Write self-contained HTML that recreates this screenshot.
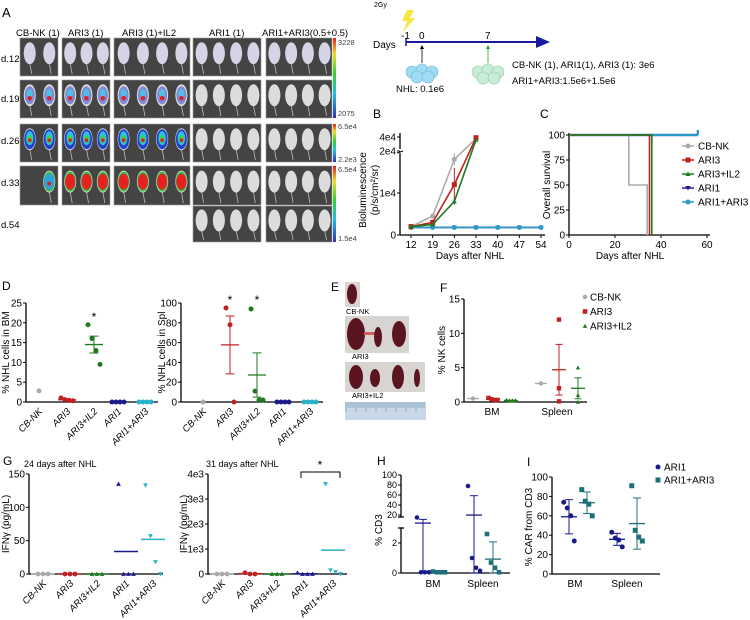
<!DOCTYPE html>
<html><head><meta charset="utf-8"><style>
html,body{margin:0;padding:0;background:#fff;}
svg{display:block;font-family:"Liberation Sans",Arial,sans-serif;}
</style></head><body>
<svg id="fig" width="750" height="620" viewBox="0 0 750 620" xmlns="http://www.w3.org/2000/svg">
<defs>
<linearGradient id="cbar" x1="0" y1="0" x2="0" y2="1">
<stop offset="0" stop-color="#e02020"/><stop offset="0.2" stop-color="#f0e020"/><stop offset="0.45" stop-color="#30d030"/><stop offset="0.7" stop-color="#20c0e0"/><stop offset="1" stop-color="#3030c0"/>
</linearGradient>
</defs>
<g id="panelA" font-size="9.5">
<text x="2" y="17" font-size="13">A</text>
<text x="16" y="36">CB-NK (1)</text>
<text x="68" y="36">ARI3 (1)</text>
<text x="122" y="36">ARI3 (1)+IL2</text>
<text x="209" y="36">ARI1 (1)</text>
<text x="262" y="36">ARI1+ARI3(0.5+0.5)</text>
<text x="1" y="62">d.12</text>
<text x="1" y="102">d.19</text>
<text x="1" y="144">d.26</text>
<text x="1" y="186">d.33</text>
<text x="1" y="228">d.54</text>
<rect x="333" y="38" width="3" height="80" fill="url(#cbar)"/>
<rect x="333" y="124" width="3" height="38" fill="url(#cbar)"/>
<rect x="333" y="166" width="3" height="76" fill="url(#cbar)"/>
<g font-size="7.5" fill="#444">
<text x="338" y="45">3228</text>
<text x="338" y="116">2075</text>
<text x="338" y="129">6.5e4</text>
<text x="338" y="162">2.2e3</text>
<text x="338" y="172">6.5e4</text>
<text x="338" y="241">1.5e4</text>
</g>
</g>
<g id="timeline" font-size="9.5">
<text x="374" y="7" font-size="7">2Gy</text>
<polygon points="407,10 414,10 410,18 415,18 403,32 407,21 402,21" fill="#f5e642"/>
<text x="373" y="48" font-size="10">Days</text>
<line x1="406" y1="42" x2="538" y2="42" stroke="#1a1aa0" stroke-width="2"/>
<polygon points="536,36 550,42 536,48" fill="#1a1aa0"/>
<line x1="406" y1="38" x2="406" y2="46" stroke="#1a1aa0" stroke-width="1.5"/>
<text x="401" y="39" font-size="10">-1</text>
<text x="419" y="39" font-size="10">0</text>
<text x="485" y="39" font-size="10">7</text>
<line x1="422" y1="63" x2="422" y2="48" stroke="#000" stroke-width="0.8"/>
<polygon points="420,49 422,45 424,49" fill="#000"/>
<line x1="488" y1="63" x2="488" y2="48" stroke="#2a9a2a" stroke-width="0.8"/>
<polygon points="486,49 488,45 490,49" fill="#2a9a2a"/>
<g fill="#9fdcf3" stroke="#6bb8d8" stroke-width="0.6">
<circle cx="412" cy="72" r="6"/><circle cx="422" cy="70" r="6"/><circle cx="432" cy="72" r="6"/><circle cx="417" cy="77" r="6"/><circle cx="428" cy="77" r="6"/></g>
<g fill="#c8ecd8" stroke="#8cc8a8" stroke-width="0.6">
<circle cx="478" cy="72" r="6"/><circle cx="488" cy="70" r="6"/><circle cx="498" cy="72" r="6"/><circle cx="483" cy="78" r="6"/><circle cx="494" cy="78" r="6"/></g>
<text x="396" y="92">NHL: 0.1e6</text>
<text x="512" y="68">CB-NK (1), ARI1(1), ARI3 (1): 3e6</text>
<text x="512" y="84">ARI1+ARI3:1.5e6+1.5e6</text>
</g>
<g id="panelE" font-size="7.5">
<text x="331" y="291" font-size="12">E</text>
<rect x="345" y="282" width="15" height="25" fill="#d8d4d2"/>
<ellipse cx="352" cy="294" rx="5" ry="10" fill="#5a1520"/>
<text x="346" y="314">CB-NK</text>
<rect x="345" y="316" width="64" height="37" fill="#d8d4d2"/>
<ellipse cx="356" cy="334" rx="9" ry="16" fill="#5a1520"/><rect x="364" y="332" width="12" height="3" fill="#d06060"/><ellipse cx="378" cy="337" rx="4" ry="10" fill="#5a1520"/><ellipse cx="399" cy="334" rx="7" ry="13" fill="#5a1520"/>
<text x="352" y="359">ARI3</text>
<rect x="345" y="362" width="80" height="30" fill="#d8d4d2"/>
<ellipse cx="356" cy="377" rx="7" ry="12" fill="#5a1520"/><ellipse cx="375" cy="378" rx="5" ry="9" fill="#5a1520"/><ellipse cx="398" cy="377" rx="6" ry="12" fill="#5a1520"/><ellipse cx="417" cy="378" rx="3" ry="9" fill="#5a1520"/>
<text x="352" y="398">ARI3+IL2</text>
<rect x="345" y="402" width="81" height="18" fill="#c8d8e8"/>
<g id="ruler-ticks" stroke="#6080a0" stroke-width="0.5"></g>
</g>
<g id="charts" font-size="9.5"></g>
</svg>
<script>
// ---------- data ----------
const bDays = [12, 19, 26, 33, 40, 47, 54];
const bCbnk = [2000, 4500, 18000, 38000];
const bCbnkErr = [200, 600, 1500, 0];
const bAri3 = [2000, 3000, 12000, 39000];
const bAri3Err = [200, 300, 4000, 0];
const bAri3Il2 = [2000, 2500, 8000, 36000];
const bAri3Il2Err = [200, 300, 800, 0];
const bAri1 = [1800, 1800, 1800, 1800, 1800, 1800, 1800];
const bAri1Ari3 = [1800, 1800, 1800, 1800, 1800, 1800, 1800];
const bYTicks = [0, 10000, 20000, 40000];
const bYTickLabels = ['0', '1e4', '2e4', '4e4'];

const cNames = ['CB-NK', 'ARI3', 'ARI3+IL2', 'ARI1', 'ARI1+ARI3'];
const cTimesCbnk = [0, 26, 34]; const cSurvCbnk = [100, 50, 0];
const cTimesAri3 = [0, 35]; const cSurvAri3 = [100, 0];
const cTimesAri3Il2 = [0, 36]; const cSurvAri3Il2 = [100, 0];
const cTimesAri1 = [0, 56]; const cSurvAri1 = [100, 100];
const cTimesAri1Ari3 = [0, 56]; const cSurvAri1Ari3 = [100, 100];
const cXTicks = [0, 20, 40, 60];
const cYTicks = [0, 25, 50, 75, 100];

const dCats = ['CB-NK', 'ARI3', 'ARI3+IL2', 'ARI1', 'ARI1+ARI3'];
const dBm = [[2.8], [1.0, 0.6, 0.4, 0.3], [19.5, 16, 13, 9.5], [0, 0, 0, 0], [0, 0, 0, 0]];
const dSpl = [[0], [95, 78, 0], [94, 11, 2, 2], [0, 0, 0, 0], [0, 0, 0, 0]];
const dBmTicks = [0, 5, 10, 15, 20, 25];
const dSplTicks = [0, 20, 40, 60, 80, 100];

const fGroups = ['BM', 'Spleen'];
const fSeries = ['CB-NK', 'ARI3', 'ARI3+IL2'];
const fBmVals = [[0.5], [0.6, 0.4, 0.3, 0.3], [0.3, 0.2, 0.2, 0.2]];
const fSpleenVals = [[2.7], [12, 2, 0.1], [5, 1, 0]];
const fTicks = [0, 5, 10, 15];

const gCats = ['CB-NK', 'ARI3', 'ARI3+IL2', 'ARI1', 'ARI1+ARI3'];
const g24 = [[0, 0, 0], [0, 0, 0], [0, 0, 0], [135, 0, 0, 0], [133, 57, 18, 0]];
const g31 = [[0, 0, 0], [50, 0, 0], [0, 0, 0], [50, 0, 0, 0], [3600, 150, 80, 0]];
const g24Ticks = [0, 50, 100, 150];
const g31Ticks = [0, 1000, 2000, 3000, 4000];
const g31TickLabels = ['0', '1e3', '2e3', '3e3', '4e3'];

const hSeries = ['ARI1', 'ARI1+ARI3'];
const hBm = [[15, 0.05, 0.05, 0.05], [0.1, 0.05, 0.05, 0.05]];
const hSpleen = [[78, 1.0, 0.35, 0.15], [2.6, 0.7, 0.35, 0.05]];
const hLowTicks = [0, 2];
const hHighTicks = [20, 40, 60, 80, 100];

const iBm = [[74, 68, 60, 34], [87, 75, 72, 60]];
const iSpleen = [[43, 37, 35, 28], [91, 45, 38, 34]];
const iTicks = [0, 20, 40, 60, 80, 100];

// ---------- helpers ----------
const NS = 'http://www.w3.org/2000/svg';
const root = document.getElementById('charts');
function mk(tag, attrs, parent) {
  const e = document.createElementNS(NS, tag);
  for (const k in attrs) e.setAttribute(k, attrs[k]);
  (parent || root).appendChild(e);
  return e;
}
function txt(x, y, s, attrs, name) {
  const t = mk('text', Object.assign({x: x, y: y}, attrs || {}));
  t.textContent = s;
  
  
  return t;
}
function line(x1, y1, x2, y2, stroke, w, name) {
  const l = mk('line', {x1: x1, y1: y1, x2: x2, y2: y2, stroke: stroke, 'stroke-width': w || 1});
  
  
  return l;
}
function marker(shape, x, y, r, color, name) {
  let e;
  if (shape === 'circle') e = mk('circle', {cx: x, cy: y, r: r, fill: color});
  else if (shape === 'square') e = mk('rect', {x: x - r, y: y - r, width: 2 * r, height: 2 * r, fill: color});
  else if (shape === 'tri') e = mk('polygon', {points: `${x},${y - r} ${x + r},${y + r * 0.8} ${x - r},${y + r * 0.8}`, fill: color});
  else e = mk('polygon', {points: `${x},${y + r} ${x + r},${y - r * 0.8} ${x - r},${y - r * 0.8}`, fill: color});
  
  
  return e;
}
function mean(a) { return a.reduce((s, v) => s + v, 0) / a.length; }
function sd(a) { if (a.length < 2) return 0; const m = mean(a); return Math.sqrt(a.reduce((s, v) => s + (v - m) * (v - m), 0) / (a.length - 1)); }
function sem(a) { return a.length < 2 ? 0 : sd(a) / Math.sqrt(a.length); }
function yAxis(x, y0, y1, ticks, labels, scale, name) {
  line(x, y0, x, y1, '#000', 1.3, name + '-line');
  ticks.forEach((t, i) => {
    const y = scale(t);
    line(x - 3, y, x, y, '#000', 1, name + '-tick');
    txt(x - 4, y + 3.5, labels ? labels[i] : String(t), {'text-anchor': 'end', 'font-size': 10}, name + '-tick-label');
  });
}
function yTitle(x, y, s, name) {
  txt(x, y, s, {'text-anchor': 'middle', transform: `rotate(-90 ${x} ${y})`, 'font-size': 10}, name);
}
function rotLabel(x, y, s, name) {
  txt(x, y, s, {'text-anchor': 'end', transform: `rotate(-45 ${x} ${y})`, 'font-size': 9.5, 'font-style': 'italic'}, name);
}
function meanBar(x, vals, scale, color, w, errFn, name) {
  const m = mean(vals), e = errFn(vals);
  line(x - w, scale(m), x + w, scale(m), color, 1.3, name + '-mean');
  if (e > 0) {
    line(x, scale(m + e), x, scale(Math.max(0, m - e)), color, 1, name + '-errbar');
    line(x - w / 2, scale(m + e), x + w / 2, scale(m + e), color, 1, name + '-err-cap');
    line(x - w / 2, scale(Math.max(0, m - e)), x + w / 2, scale(Math.max(0, m - e)), color, 1, name + '-err-cap');
  }
}

// ---------- panel A mice ----------
const aCols = [[20, 59], [62, 111], [114, 191], [193, 262], [266, 333]];
const aRows = [[38, 76], [80, 118], [124, 162], [166, 205], [206, 242]];
const aMice = [2, 3, 4, 4, 4];
const panelA = document.getElementById('panelA');
aRows.forEach((r, ri) => {
  aCols.forEach((c, ci) => {
    if (ri === 4 && ci < 3) return;
    const tile = mk('rect', {x: c[0], y: r[0], width: c[1] - c[0] - 1, height: r[1] - r[0], fill: '#444', stroke: '#999', 'stroke-width': 0.6}, panelA);
    
    
    const n = aMice[ci];
    const w = c[1] - c[0];
    for (let k = 0; k < n; k++) {
      if (ri === 3 && ci === 0 && k === 0) continue;
      const cx = c[0] + w * (k + 0.5) / n;
      const cy = r[0] + (r[1] - r[0]) * 0.4;
      mk('line', {x1: cx, y1: cy + 10, x2: cx + 2, y2: r[1] - 2, stroke: '#bbb', 'stroke-width': 0.8}, panelA);
      mk('ellipse', {cx: cx, cy: cy, rx: Math.min(6, w / n / 2.4), ry: 11, fill: ri === 0 ? '#d4d4e6' : '#dcdcdc'}, panelA);
      if (ci < 3 && ri >= 1 && ri <= 3) {
        const rx = Math.min(5, w / n / 2.8);
        if (ri === 1) {
          mk('ellipse', {cx: cx, cy: cy, rx: rx, ry: 9, fill: '#8088d8'}, panelA);
          mk('ellipse', {cx: cx, cy: cy - 2, rx: rx * 0.6, ry: 4, fill: '#50c0e0'}, panelA);
          mk('circle', {cx: cx, cy: cy + 3, r: 2.2, fill: '#e02020'}, panelA);
        } else if (ri === 2) {
          mk('ellipse', {cx: cx, cy: cy, rx: rx + 0.5, ry: 10, fill: '#2040d0'}, panelA);
          mk('ellipse', {cx: cx, cy: cy - 1, rx: rx * 0.75, ry: 7, fill: '#30c0e0'}, panelA);
          mk('ellipse', {cx: cx, cy: cy, rx: rx * 0.5, ry: 4, fill: '#40d040'}, panelA);
          mk('circle', {cx: cx, cy: cy + 1, r: 1.8, fill: '#e02020'}, panelA);
        } else {
          mk('ellipse', {cx: cx, cy: cy, rx: rx + 0.5, ry: 10, fill: '#30c040'}, panelA);
          mk('ellipse', {cx: cx, cy: cy, rx: rx, ry: 8, fill: ci === 0 ? '#30a0e0' : '#e82020'}, panelA);
          mk('circle', {cx: cx, cy: cy + 2, r: 2, fill: '#e02020'}, panelA);
        }
      }
    }
  });
});
const rt = document.getElementById('ruler-ticks');
for (let k = 0; k < 40; k++) mk('line', {x1: 346 + k * 2, y1: 402, x2: 346 + k * 2, y2: k % 5 === 0 ? 412 : 408}, rt);

// ---------- panel B ----------
txt(373, 118, 'B', {'font-size': 12}, 'panel-b-label');
const bx = d => 411 + (d - 12) * (130 / 42);
const by = v => v <= 20000 ? 235 - v / 20000 * 84 : 151 - (v - 20000) / 20000 * 14;
line(400, 235, 400, 153, '#000', 1.3, 'b-y-axis-lower');
line(400, 149, 400, 133, '#000', 1.3, 'b-y-axis-upper');
line(397, 153, 403, 151, '#000', 1, 'b-axis-break');
bYTicks.forEach((t, i) => { line(397, by(t), 400, by(t), '#000', 1, 'b-y-tick'); txt(396, by(t) + 3.5, bYTickLabels[i], {'text-anchor': 'end', 'font-size': 10}, 'b-y-tick-label'); });
line(400, 235, 545, 235, '#000', 1.3, 'b-x-axis');
bDays.forEach(d => { line(bx(d), 235, bx(d), 238, '#000', 1, 'b-x-tick'); txt(bx(d), 248, String(d), {'text-anchor': 'middle', 'font-size': 10}, 'b-x-tick-label'); });
txt(470, 259, 'Days after NHL', {'text-anchor': 'middle', 'font-size': 10}, 'b-x-axis-title');
yTitle(366, 190, 'Bioluminescence', 'b-y-axis-title');
yTitle(378, 190, '(p/s/cm²/sr)', 'b-y-axis-title-units');
function bSeries(vals, errs, color, shape, name) {
  const pts = vals.map((v, i) => `${bx(bDays[i])},${by(v)}`).join(' ');
  const pl = mk('polyline', {points: pts, fill: 'none', stroke: color, 'stroke-width': 1.6});
  
  
  vals.forEach((v, i) => {
    if (errs && errs[i]) line(bx(bDays[i]), by(v - errs[i]), bx(bDays[i]), by(v + errs[i]), color, 1, name + '-errbar');
    marker(shape, bx(bDays[i]), by(v), 2.5, color, name + '-point');
  });
}
bSeries(bAri1, null, '#1a1a8c', 'tridown', 'b-ari1');
bSeries(bAri1Ari3, null, '#2a9ac8', 'circle', 'b-ari1-ari3');
bSeries(bCbnk, bCbnkErr, '#aaaaaa', 'circle', 'b-cb-nk');
bSeries(bAri3, bAri3Err, '#c02020', 'square', 'b-ari3');
bSeries(bAri3Il2, bAri3Il2Err, '#1f7a1f', 'tri', 'b-ari3-il2');

// ---------- panel C ----------
txt(540, 118, 'C', {'font-size': 12}, 'panel-c-label');
const cx = t => 569 + t / 60 * 138;
const cy = s => 235 - s;
yAxis(569, 235, 133, cYTicks, null, cy, 'c-y-axis');
line(569, 235, 710, 235, '#000', 1.3, 'c-x-axis');
cXTicks.forEach(t => { line(cx(t), 235, cx(t), 238, '#000', 1, 'c-x-tick'); txt(cx(t), 248, String(t), {'text-anchor': 'middle', 'font-size': 10}, 'c-x-tick-label'); });
txt(630, 259, 'Days after NHL', {'text-anchor': 'middle', 'font-size': 10}, 'c-x-axis-title');
yTitle(550, 185, 'Overall survival', 'c-y-axis-title');
const cColors = ['#aaaaaa', '#c02020', '#1f7a1f', '#1a1a8c', '#2a9ac8'];
const cShapes = ['circle', 'square', 'tri', 'tridown', 'circle'];
const cT = [cTimesCbnk, cTimesAri3, cTimesAri3Il2, cTimesAri1, cTimesAri1Ari3];
const cS = [cSurvCbnk, cSurvAri3, cSurvAri3Il2, cSurvAri1, cSurvAri1Ari3];
[3, 4, 0, 1, 2].forEach(si => {
  const T = cT[si], S = cS[si];
  let d = `M${cx(T[0])},${cy(S[0])}`;
  for (let k = 1; k < T.length; k++) d += ` H${cx(T[k])} V${cy(S[k])}`;
  const p = mk('path', {d: d, fill: 'none', stroke: cColors[si], 'stroke-width': si >= 3 ? 2.2 : 1.6});
  
  
  if (si >= 3) line(cx(T[T.length - 1]), cy(100) - 5, cx(T[T.length - 1]), cy(100), cColors[si], 2, 'c-censor-tick');
});
cNames.forEach((n, i) => {
  marker(cShapes[i], 688, 146 + i * 14, 2.5, cColors[i], 'c-legend-marker');
  line(682, 146 + i * 14, 694, 146 + i * 14, cColors[i], 1.5, 'c-legend-line');
  txt(698, 149.5 + i * 14, n, {'font-size': 10}, 'c-legend-label');
});

// ---------- panel D ----------
txt(2, 290, 'D', {'font-size': 12}, 'panel-d-label');
const dColors = ['#aaaaaa', '#c02020', '#1f7a1f', '#1a1a8c', '#2ab0c8'];
function dotPanel(ax, x0, xs, vals, ticks, tickLabels, ymax, y0, ytop, errFn, title, titleX, name, shapes) {
  const sc = v => y0 - v / ymax * (y0 - ytop);
  yAxis(ax, y0, ytop, ticks, tickLabels, sc, name + '-y-axis');
  line(ax, y0, x0, y0, '#000', 1.3, name + '-x-axis');
  xs.forEach((x, gi) => {
    const v = vals[gi];
    v.forEach((val, k) => marker(shapes ? shapes[gi] : 'circle', x + (k - (v.length - 1) / 2) * 4, sc(val), 2.5, dColors[gi], name + '-point'));
    if (v.length > 1 && mean(v) > 0) meanBar(x, v, sc, dColors[gi], 9, errFn, name + '-group');
  });
  yTitle(titleX, (y0 + ytop) / 2, title, name + '-y-axis-title');
  return sc;
}
const d1x = [39, 67, 94, 118, 145];
dotPanel(26, 158, d1x, dBm, dBmTicks, null, 25, 402, 303, sem, '% NHL cells in BM', 9, 'd-bm');
d1x.forEach((x, i) => rotLabel(x + 4, 412, dCats[i], 'd-bm-x-label'));
txt(94, 321, '*', {'text-anchor': 'middle', 'font-size': 12}, 'd-bm-significance');
const d2x = [203, 230, 257, 283, 310];
dotPanel(181, 323, d2x, dSpl, dSplTicks, null, 100, 402, 303, sem, '% NHL cells in Spl', 165, 'd-spl');
d2x.forEach((x, i) => rotLabel(x + 4, 412, dCats[i], 'd-spl-x-label'));
txt(230, 304, '*', {'text-anchor': 'middle', 'font-size': 12}, 'd-spl-significance-ari3');
txt(257, 304, '*', {'text-anchor': 'middle', 'font-size': 12}, 'd-spl-significance-ari3-il2');

// ---------- panel F ----------
txt(440, 292, 'F', {'font-size': 12}, 'panel-f-label');
const fy = v => 402 - v / 15 * 103;
yAxis(464, 402, 299, fTicks, null, fy, 'f-y-axis');
line(464, 402, 587, 402, '#000', 1.3, 'f-x-axis');
yTitle(445, 350, '% NK cells', 'f-y-axis-title');
const fShapes = ['circle', 'square', 'tri'];
const fX = [[473, 493, 511], [541, 559, 578]];
[fBmVals, fSpleenVals].forEach((grp, gi) => {
  grp.forEach((v, si) => {
    const x = fX[gi][si];
    v.forEach((val, k) => marker(fShapes[si], x + (v.length > 3 ? (k - 1.5) * 3 : 0), fy(val), 2.2, dColors[si], 'f-point'));
    if (v.length === 1) line(x - 6, fy(v[0]), x + 6, fy(v[0]), dColors[si], 1.3, 'f-mean');
    else meanBar(x, v, fy, dColors[si], 7, sem, 'f-group');
  });
});
txt(492, 415, fGroups[0], {'text-anchor': 'middle', 'font-size': 10}, 'f-x-label-bm');
txt(557, 415, fGroups[1], {'text-anchor': 'middle', 'font-size': 10}, 'f-x-label-spleen');
fSeries.forEach((n, i) => { marker(fShapes[i], 585, 297 + i * 14.5, 2.3, dColors[i], 'f-legend-marker'); txt(590, 300.5 + i * 14.5, n, {'font-size': 10}, 'f-legend-label'); });

// ---------- panel G ----------
txt(3, 465, 'G', {'font-size': 12}, 'panel-g-label');
txt(24, 467, '24 days after NHL', {'font-size': 9}, 'g24-title');
txt(206, 467, '31 days after NHL', {'font-size': 9}, 'g31-title');
const gShapes = ['circle', 'circle', 'tri', 'tri', 'tridown'];
const gColors = ['#aaaaaa', '#c02020', '#1f7a1f', '#1a1a8c', '#2ab0c8'];
function gPanel(ax, xe, xs, vals, ticks, labels, ymax, name, tx) {
  const sc = v => 574 - v / ymax * 100;
  yAxis(ax, 574, 474, ticks, labels, sc, name + '-y-axis');
  line(ax, 574, xe, 574, '#000', 1.3, name + '-x-axis');
  xs.forEach((x, gi) => {
    const v = vals[gi];
    v.forEach((val, k) => marker(gShapes[gi], x + (k - (v.length - 1) / 2) * 5, sc(val), 2.4, gColors[gi], name + '-point'));
    line(x - 12, sc(mean(v)), x + 12, sc(mean(v)), gColors[gi], 1.5, name + '-mean');
  });
  xs.forEach((x, i) => rotLabel(x + 4, 584, gCats[i], name + '-x-label'));
  yTitle(tx, 524, 'IFNγ (pg/mL)', name + '-y-axis-title');
}
gPanel(29, 163, [43, 70, 97, 126, 153], g24, g24Ticks, null, 150, 'g24', 9);
gPanel(208, 347, [222, 250, 277, 305, 333], g31, g31Ticks, g31TickLabels, 4000, 'g31', 187);
const br = mk('polyline', {points: '301,478 301,472 340,472 340,478', fill: 'none', stroke: '#000', 'stroke-width': 1});


txt(320, 469, '*', {'text-anchor': 'middle', 'font-size': 12}, 'g31-significance');

// ---------- panel H ----------
txt(377, 465, 'H', {'font-size': 12}, 'panel-h-label');
const hy = v => v <= 3 ? 573 - v / 3 * 45 : 520 - (v - 10) / 90 * 45;
line(401, 573, 401, 528, '#000', 1.3, 'h-y-axis-lower');
line(401, 517, 401, 475, '#000', 1.3, 'h-y-axis-upper');
line(398, 528, 404, 528, '#000', 1.3, 'h-axis-break-low');
line(398, 517, 404, 517, '#000', 1.3, 'h-axis-break-high');
hLowTicks.concat(hHighTicks).forEach(t => { line(398, hy(t), 401, hy(t), '#000', 1, 'h-y-tick'); txt(397, hy(t) + 3, String(t), {'text-anchor': 'end', 'font-size': 9}, 'h-y-tick-label'); });
line(401, 573, 510, 573, '#000', 1.3, 'h-x-axis');
txt(433, 587, 'BM', {'text-anchor': 'middle', 'font-size': 10}, 'h-x-label-bm');
txt(483, 587, 'Spleen', {'text-anchor': 'middle', 'font-size': 10}, 'h-x-label-spleen');
yTitle(382, 530, '% CD3', 'h-y-axis-title');
const hColors = ['#1a1a8c', '#1f6f7a'];
const hShapes = ['circle', 'square'];
const hX = [[423, 439], [474, 493]];
[hBm, hSpleen].forEach((grp, gi) => grp.forEach((v, si) => {
  const x = hX[gi][si];
  meanBar(x, v, hy, hColors[si], 8, sd, 'h-group');
  v.forEach((val, k) => marker(hShapes[si], x + (k - 1.5) * 4, hy(val), 2.3, hColors[si], 'h-point'));
}));

// ---------- panel I ----------
txt(527, 466, 'I', {'font-size': 12}, 'panel-i-label');
const iy = v => 574 - v / 100 * 97;
yAxis(552, 574, 477, iTicks, null, iy, 'i-y-axis');
line(552, 574, 660, 574, '#000', 1.3, 'i-x-axis');
txt(575, 587, 'BM', {'text-anchor': 'middle', 'font-size': 10}, 'i-x-label-bm');
txt(627, 587, 'Spleen', {'text-anchor': 'middle', 'font-size': 10}, 'i-x-label-spleen');
yTitle(532, 527, '% CAR from CD3', 'i-y-axis-title');
const iX = [[569, 587], [617, 637]];
[iBm, iSpleen].forEach((grp, gi) => grp.forEach((v, si) => {
  const x = iX[gi][si];
  meanBar(x, v, iy, hColors[si], 8, sd, 'i-group');
  v.forEach((val, k) => marker(hShapes[si], x + (k - 1.5) * 3.5, iy(val), 2.5, hColors[si], 'i-point'));
}));
hSeries.forEach((n, i) => { marker(hShapes[i], 658, 467 + i * 13, 2.5, hColors[i], 'i-legend-marker'); txt(664, 470.5 + i * 13, n, {'font-size': 10}, 'i-legend-label'); });
</script>
</body></html>
